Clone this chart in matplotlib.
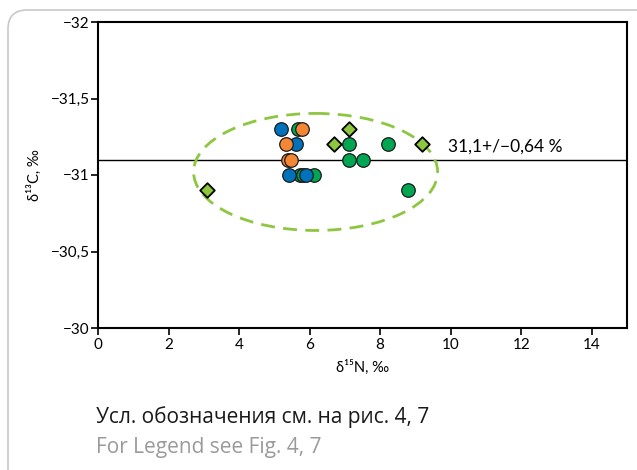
import matplotlib
matplotlib.use("Agg")
import matplotlib.pyplot as plt
from matplotlib.patches import Ellipse, FancyBboxPatch

# delta15N / delta13C values per group
green_x = [5.68, 7.11, 7.11, 7.51, 8.21, 5.72, 5.80, 6.12, 8.80]
green_y = [-31.3, -31.2, -31.1, -31.1, -31.2, -31.0, -31.0, -31.0, -30.9]
blue_x = [5.20, 5.61, 5.42, 5.91]
blue_y = [-31.3, -31.2, -31.0, -31.0]
orange_x = [5.79, 5.32, 5.39, 5.47]
orange_y = [-31.3, -31.2, -31.1, -31.1]
diamond_x = [3.10, 7.11, 6.70, 9.19]
diamond_y = [-30.9, -31.3, -31.2, -31.2]

mean_c = -31.1
mean_label = "31,1+/\u22120,64 %"
ell_center = (6.17, -31.02)
ell_size = (6.92, 0.765)

x_ticks = [0, 2, 4, 6, 8, 10, 12, 14]
y_ticks = [-32, -31.5, -31, -30.5, -30]
y_tick_labels = ["\u221232", "\u221231,5", "\u221231", "\u221230,5", "\u221230"]

axis_font = ["Lato", "DejaVu Sans"]
plt.rcParams["font.family"] = axis_font

fig = plt.figure(figsize=(6.37, 4.70), dpi=100)
fig.patch.set_facecolor("white")

# rounded frame around the figure
frame = FancyBboxPatch((8 / 637, -0.05), 1.2, 1.05 - 10 / 470,
                       boxstyle="round,pad=0,rounding_size=0.03",
                       transform=fig.transFigure, facecolor="none",
                       edgecolor="#c8c8c8", linewidth=1.2, clip_on=False,
                       mutation_aspect=637 / 470)
fig.patches.append(frame)

ax = fig.add_axes([98 / 637, 1 - 328 / 470, (627 - 98) / 637, (328 - 22) / 470])

ax.axhline(mean_c, color="black", linewidth=1.0, zorder=2)
ax.add_patch(Ellipse(ell_center, ell_size[0], ell_size[1], fill=False,
                     edgecolor="#8dc63f", linewidth=2.0, linestyle=(0, (5, 3)),
                     zorder=3))

ms = 95
ax.scatter(green_x, green_y, s=ms, c="#00a651", edgecolors="#1a1a1a",
           linewidths=0.9, zorder=4)
ax.scatter(blue_x, blue_y, s=ms, c="#0072bc", edgecolors="#1a1a1a",
           linewidths=0.9, zorder=5)
ax.scatter(orange_x, orange_y, s=ms, c="#f58634", edgecolors="#1a1a1a",
           linewidths=0.9, zorder=5)
ax.scatter(diamond_x, diamond_y, s=55, marker="D", c="#8dc63f",
           edgecolors="black", linewidths=1.3, zorder=6)

ax.text(9.92, mean_c - 0.03, mean_label, fontsize=12.5, ha="left", va="bottom",
        zorder=7)

ax.set_xlim(0, 15)
ax.set_ylim(-30, -32)
ax.set_xticks(x_ticks)
ax.set_yticks(y_ticks)
ax.set_yticklabels(y_tick_labels)
ax.tick_params(axis="both", direction="out", length=5, width=1.2,
               labelsize=11, pad=2)
ax.tick_params(axis="y", pad=1)
for side in ["left", "bottom", "top", "right"]:
    ax.spines[side].set_linewidth(1.5)

ax.set_xlabel("\u03b4\u00b9\u2075N, \u2030", fontsize=10.5, labelpad=6)
ax.set_ylabel("\u03b4\u00b9\u00b3C, \u2030", fontsize=10.5, labelpad=6)

fig.text(96 / 637, 1 - 417 / 470, "Усл. обозначения см. на рис. 4, 7",
         fontsize=15, family=["Open Sans", "DejaVu Sans"], va="center",
         color="#1a1a1a")
fig.text(96 / 637, 1 - 448 / 470, "For Legend see Fig. 4, 7",
         fontsize=15, family=["Open Sans", "DejaVu Sans"], va="center",
         color="#9a9a9a")

fig.savefig("out.png", dpi=100, facecolor="white")
